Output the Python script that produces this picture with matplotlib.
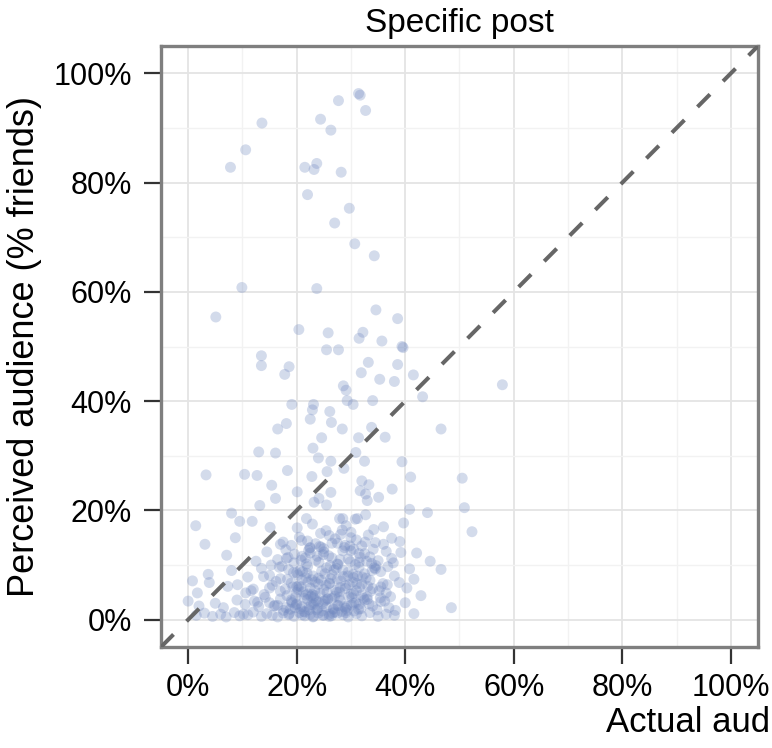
import matplotlib
matplotlib.use("Agg")
import matplotlib.pyplot as plt
from matplotlib.ticker import MultipleLocator

plt.rcParams['font.family'] = ['Liberation Sans', 'DejaVu Sans']

# Sparse upper points (actual %, perceived %)
upper_x = [31.4, 31.7, 27.7, 32.7, 13.6, 24.4, 26.3, 10.6, 7.8, 21.5, 23.7, 23.2, 28.2, 22.0, 29.7, 27.0,
           30.7, 34.3, 9.9, 23.7, 5.1, 34.6, 38.6, 20.4, 25.8, 32.2, 31.5, 35.7, 25.5, 27.7, 39.4, 39.6,
           13.5, 13.5, 18.6, 17.8, 33.2, 38.6, 31.9, 41.5, 35.3, 38.0, 28.6, 29.1, 43.2, 34.0, 29.3, 30.4,
           19.1, 23.1, 22.9, 26.1, 22.5, 26.4, 18.1, 16.5, 28.4, 33.8, 46.6, 24.6, 31.4, 36.3, 57.9]
upper_y = [96.3, 96.0, 95.0, 93.2, 90.9, 91.6, 89.6, 86.0, 82.8, 82.8, 83.5, 82.4, 81.9, 77.8, 75.3, 72.6,
           68.8, 66.6, 60.8, 60.6, 55.4, 56.7, 55.1, 53.1, 52.5, 52.6, 51.5, 51.0, 49.4, 49.4, 50.0, 49.8,
           48.3, 46.5, 46.3, 44.9, 47.1, 46.7, 45.2, 44.8, 44.0, 43.6, 42.8, 42.0, 40.8, 40.1, 40.1, 39.4,
           39.4, 39.4, 38.4, 38.1, 36.7, 36.1, 35.9, 34.9, 34.9, 35.2, 34.9, 33.3, 33.3, 33.4, 43.0]

# Mid points (perceived 16-33%)
mid_x = [23.0, 13.0, 16.1, 24.0, 26.3, 3.3, 10.4, 12.7, 18.3, 25.6, 22.8, 15.4, 20.1, 16.1, 26.3, 24.1,
         23.2, 25.5, 13.2, 8.0, 9.5, 11.8, 1.4, 15.1, 20.1, 21.8, 22.9, 25.4, 8.7, 3.1, 17.0, 27.9, 30.8,
         30.9, 32.5, 39.4, 28.7, 41.0, 50.5, 32.0, 33.3, 31.7, 37.6, 32.7, 33.0, 35.1, 40.8, 44.1, 50.9,
         32.7, 52.3, 39.7, 28.5, 31.2, 29.1, 34.2, 36.0, 30.0]
mid_y = [31.4, 30.7, 30.5, 29.6, 29.0, 26.5, 26.6, 26.4, 27.3, 27.1, 26.2, 24.6, 23.4, 22.2, 23.3, 22.2,
         21.5, 21.0, 20.9, 19.5, 18.0, 18.0, 17.2, 16.9, 16.8, 18.5, 17.5, 16.3, 15.0, 13.8, 13.8, 18.5, 18.4,
         30.6, 29.0, 28.9, 27.7, 26.1, 25.9, 25.4, 24.7, 23.6, 23.9, 23.0, 21.8, 22.4, 20.2, 19.6, 20.5,
         19.2, 16.1, 17.7, 18.5, 18.5, 17.2, 16.5, 17.0, 16.0]

# Dense lower cloud (perceived 0-16%)
low_x = [1.5, 3.0, 4.5, 6.0, 7.0, 8.5, 9.5, 11.0, 12.0, 13.5, 14.5, 15.5, 16.5, 17.5, 18.5, 19.5, 20.5,
         21.5, 22.5, 23.0, 24.0, 25.0, 26.0, 27.0, 28.5, 29.5, 31.0, 32.0, 33.5, 35.0, 36.5, 38.0, 41.6,
         0.0, 2.0, 5.0, 6.5, 9.0, 10.5, 12.2, 13.0, 15.0, 16.0, 17.0, 18.0, 19.0, 20.0, 21.0, 22.0, 23.0,
         24.0, 25.5, 26.5, 27.5, 28.0, 29.0, 30.5, 31.5, 32.5, 34.0, 35.5, 37.0, 38.2, 40.0, 48.5, 42.9,
         0.8, 1.7, 3.9, 7.3, 9.1, 10.6, 12.0, 14.0, 15.5, 17.0, 18.2, 19.0, 20.0, 20.8, 21.7, 22.5, 23.4,
         24.3, 25.0, 26.0, 27.0, 28.0, 29.0, 30.0, 31.0, 32.0, 33.0, 34.0, 35.5, 36.5, 38.9, 40.3,
         3.7, 8.0, 11.0, 13.5, 15.0, 17.0, 18.5, 20.0, 21.0, 22.0, 23.0, 24.0, 25.5, 26.5, 27.5, 28.5,
         29.5, 30.5, 31.5, 32.5, 33.5, 34.5, 35.5, 36.8, 38.0, 40.8, 41.6, 46.6, 44.6,
         7.1, 12.5, 14.5, 16.5, 18.0, 19.5, 21.0, 22.5, 23.5, 25.0, 26.5, 27.5, 28.5, 29.5, 30.5, 31.5,
         32.5, 33.5, 35.0, 36.5, 37.5, 39.2, 42.1,
         17.5, 19.0, 20.5, 22.0, 24.5, 26.0, 27.5, 28.8, 30.0, 31.0, 32.0, 33.2, 34.5, 36.0, 37.5, 39.0,
         18.8, 19.8, 20.7, 21.4, 22.3, 23.1, 24.7, 25.8, 26.8, 27.8, 29.3, 30.2, 31.8, 33.0, 34.8, 37.3,
         16.2, 19.3, 20.2, 21.2, 22.8, 24.0, 25.2, 27.2, 28.2, 29.7, 31.2, 32.8, 35.2, 15.3, 21.8, 26.2,
         30.8, 33.8, 23.8, 22.4, 20.9, 19.6, 18.4, 17.3, 28.9, 25.6, 24.8, 30.3, 31.6, 22.1, 23.6, 21.1,
         18.6, 19.9, 21.3, 22.6, 23.9, 25.3, 26.6, 27.9, 29.2, 30.6, 31.9, 33.3, 20.4, 21.7, 23.3, 24.6,
         26.1, 27.3, 28.6, 29.9, 17.9, 19.2, 20.6, 22.1, 23.4, 24.9, 26.3, 27.6, 29.0, 30.4, 31.7, 33.1,
         34.6, 21.0, 22.3, 23.7, 25.1, 26.4, 27.7, 29.1, 30.5, 32.3, 19.4, 20.8, 22.2, 23.5, 24.4, 25.9,
         27.1, 28.4, 16.8, 18.1, 14.2, 15.8, 12.8, 10.2, 11.6, 36.2, 37.8, 34.1, 35.9, 32.6, 28.1, 24.2,
         19.7, 21.5, 23.2, 24.8, 26.7, 28.3, 30.1, 31.4, 20.3, 22.9, 25.4, 27.4, 29.6, 31.1, 33.6, 18.3,
         21.9, 24.5, 26.9, 29.4, 32.1, 34.3, 19.0, 22.7, 25.7, 28.7, 30.9, 23.1, 26.0, 27.5, 20.0, 24.1,
         21.6, 25.0, 28.0, 30.0, 32.9, 35.4, 17.6, 22.5, 26.5, 29.8, 31.5, 33.9, 36.7, 15.0, 16.5, 13.9]
low_y = [0.8, 1.2, 0.6, 1.0, 0.5, 1.3, 0.7, 0.9, 1.4, 0.6, 1.1, 0.8, 0.5, 1.2, 0.9, 0.6, 1.3,
         0.7, 1.0, 0.5, 1.2, 0.8, 0.6, 1.4, 0.9, 0.5, 1.1, 0.7, 1.3, 0.6, 1.0, 0.8, 1.1,
         3.4, 2.5, 3.0, 2.2, 3.6, 2.8, 3.4, 2.4, 3.1, 2.6, 3.8, 2.2, 3.3, 2.9, 2.4, 3.7, 2.7,
         3.2, 2.3, 3.9, 2.6, 3.5, 2.1, 3.0, 2.8, 3.6, 2.5, 3.3, 2.2, 1.7, 3.1, 2.2, 4.4,
         7.1, 4.9, 6.8, 6.1, 6.4, 4.9, 5.6, 4.6, 6.3, 5.2, 4.4, 6.7, 5.0, 6.0, 4.5, 5.8, 6.9,
         4.8, 5.5, 6.6, 4.3, 5.9, 6.2, 4.7, 5.3, 6.5, 4.2, 5.7, 6.0, 4.9, 6.8, 5.8,
         8.3, 9.0, 7.8, 9.4, 8.1, 7.5, 9.2, 8.6, 7.3, 9.7, 8.0, 7.6, 9.5, 8.2, 7.4, 9.1,
         8.7, 7.7, 9.6, 8.4, 7.2, 9.3, 8.8, 9.7, 8.0, 9.3, 7.4, 9.2, 10.7,
         11.8, 10.7, 12.4, 11.0, 12.8, 10.4, 11.6, 12.2, 10.9, 13.0, 11.3, 10.2, 12.6, 11.1, 12.9, 10.5,
         12.1, 11.5, 10.8, 12.5, 11.2, 12.3, 12.2,
         14.2, 13.6, 15.1, 14.4, 13.3, 15.4, 14.0, 13.2, 15.0, 14.6, 13.5, 15.5, 14.1, 13.8, 14.9, 14.3,
         1.9, 4.1, 2.0, 3.9, 1.8, 4.0, 1.6, 3.8, 1.9, 4.1, 1.7, 4.0, 2.0, 3.7, 1.8, 4.2,
         7.0, 6.0, 8.2, 5.1, 7.3, 6.5, 8.4, 5.4, 7.1, 6.4, 8.0, 7.6, 5.3, 10.0, 10.2, 9.9,
         10.1, 10.3, 11.6, 13.1, 14.5, 12.0, 11.4, 9.8, 13.6, 5.0, 2.9, 6.9, 5.9, 4.7, 3.5, 8.8,
         1.1, 2.7, 1.5, 4.3, 2.1, 3.6, 1.2, 5.1, 2.4, 1.6, 4.5, 2.9, 6.2, 7.7, 5.4, 8.9,
         6.7, 9.4, 7.9, 10.6, 5.6, 3.1, 9.0, 6.9, 4.4, 11.9, 7.5, 10.1, 5.7, 8.3, 11.4, 6.1,
         9.9, 0.9, 2.3, 1.8, 3.4, 0.7, 2.6, 1.3, 4.8, 3.9, 8.6, 10.9, 12.7, 13.9, 15.8, 11.7,
         14.8, 16.4, 9.6, 11.2, 4.1, 2.5, 3.2, 1.0, 5.3, 3.4, 10.4, 12.9, 6.6, 14.2, 15.6, 13.4,
         2.2, 1.4, 3.0, 0.8, 2.0, 1.5, 2.7, 1.9, 5.5, 4.6, 6.3, 5.0, 4.2, 6.6, 5.2, 7.4,
         8.5, 7.2, 9.1, 8.0, 7.8, 9.5, 3.6, 2.8, 3.8, 2.4, 3.1, 0.6, 1.0, 1.2, 6.0, 10.5,
         11.3, 12.4, 11.0, 12.6, 10.7, 4.0, 1.7, 13.2, 14.0, 13.5, 12.1, 9.0, 6.4, 5.8, 2.6, 7.9]

all_x = upper_x + mid_x + low_x
all_y = upper_y + mid_y + low_y

ticks = [0, 20, 40, 60, 80, 100]
tick_labels = [f"{t}%" for t in ticks]

fig = plt.figure(figsize=(7.72, 7.48), dpi=100)
ax = fig.add_axes([161/772, 1 - 647/748, (758 - 161)/772, (647 - 46)/748])

ax.set_xlim(-5, 105)
ax.set_ylim(-5, 105)

ax.xaxis.set_minor_locator(MultipleLocator(10))
ax.yaxis.set_minor_locator(MultipleLocator(10))
ax.set_xticks(ticks)
ax.set_xticklabels(tick_labels)
ax.set_yticks(ticks)
ax.set_yticklabels(tick_labels)

ax.grid(True, which='major', color='#e4e4e4', linewidth=1.3, zorder=0)
ax.grid(True, which='minor', color='#f2f2f2', linewidth=1.0, zorder=0)
ax.set_axisbelow(True)

ax.tick_params(axis='both', which='major', direction='out', length=12, width=1.6,
               color='#333333', labelsize=22, labelcolor='black', pad=7)
ax.tick_params(axis='y', which='major', pad=9)
ax.tick_params(axis='both', which='minor', length=0)

for s in ax.spines.values():
    s.set_color('#7f7f7f')
    s.set_linewidth(2.4)

ax.scatter(all_x, all_y, s=62, color='#7088c0', alpha=0.3, edgecolors='none', zorder=2)
ax.plot([-5, 105], [-5, 105], color='#666666', linewidth=2.9, linestyle=(0, (4.4, 4.6)),
        zorder=3, dash_capstyle='butt')

ax.set_title("Specific post", fontsize=24, pad=10)
ax.set_ylabel("Perceived audience (% friends)", fontsize=26, labelpad=8)
fig.text(770/772, 1 - 722/748, "Actual aud", fontsize=25, ha='right', va='center')

fig.savefig("out.png", dpi=100)
